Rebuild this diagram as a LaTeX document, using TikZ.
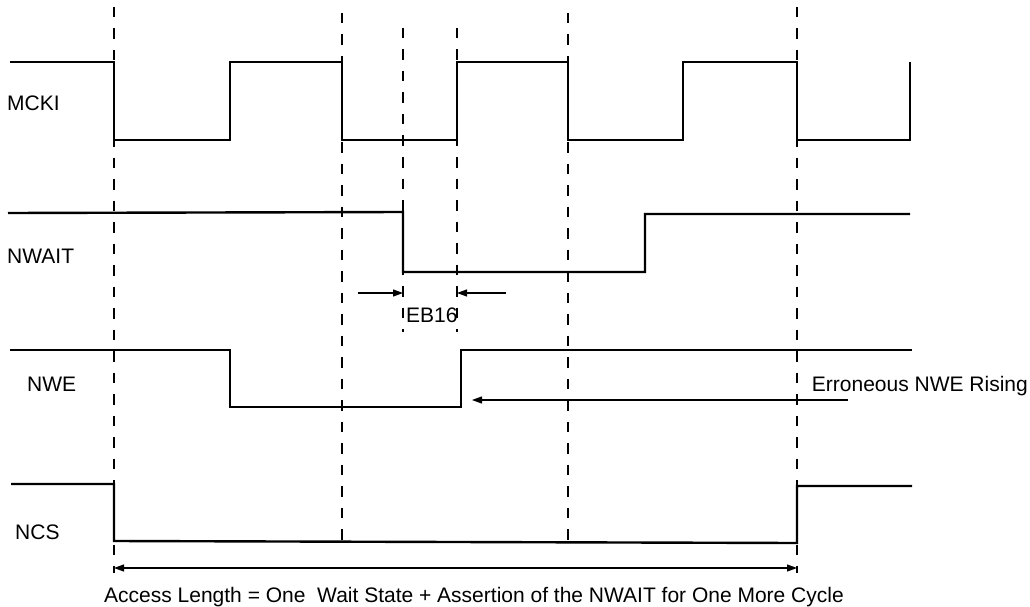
\documentclass[tikz,border=0pt]{standalone}
\usepackage{fontspec}
\setmainfont{Liberation Sans}
\usetikzlibrary{arrows.meta}
\begin{document}
\begin{tikzpicture}[x=1pt,y=-1pt,
  sig/.style={line width=2.4pt, line join=miter},
  gridline/.style={line width=1.1pt, dash pattern=on 10.5pt off 11pt},
  arr/.style={line width=1.1pt, -{Triangle[length=10pt,width=7pt]}},
  darr/.style={line width=1.1pt, {Triangle[length=10pt,width=7pt]}-{Triangle[length=10pt,width=7pt]}},
  lbl/.style={inner sep=0pt, anchor=base west, font=\fontsize{21}{24}\selectfont}]
\useasboundingbox (0,0) rectangle (1030,607);
% dashed time markers
\foreach \n/\x/\t/\b in {ga/114/7/573, gb/342/13/542, gc/403/28/332, gd/457/28/332, ge/568/13/540, gf/797/7/573} {
  \coordinate (\n t) at (\x,\t);
  \coordinate (\n b) at (\x,\b);
  \draw[gridline] (\n t) -- (\n b);
}
% waveforms
\draw[sig] (10,62) -| (114,140) -| (230,62) -| (342,140) -| (457,62) -| (568,140) -| (683,62) -| (797,140) -| (910,62);
\draw[sig] (8,213) -- (403,212) -- (403,272) -- (645,272) -- (645,214) -- (910,214);
\draw[sig] (10,350) -| (230,407) -| (461,350) -- (912,350);
\draw[sig] (11,484) -- (114,484) -- (114,541) -- (797,543) -- (797,486) -- (912,486);
% labels
\node[lbl] (mcki) at (7,111) {MCKI};
\node[lbl] (nwait) at (7,263) {NWAIT};
\node[lbl] (nwe) at (27,391) {NWE};
\node[lbl] (ncs) at (15,539) {NCS};
\node[lbl] (eb) at (406,322) {EB16};
\node[lbl, anchor=base east] (err) at (1028,391) {Erroneous NWE Rising};
\node[lbl] (acc) at (104,602) {Access Length = One\ \ Wait State + Assertion of the NWAIT for One More Cycle};
% arrows
\coordinate (e1) at (358,293);
\coordinate (e2) at (506,293);
\draw[arr] (e1) -- (gct |- e1);
\draw[arr] (e2) -- (gdt |- e2);
\coordinate (ert) at (848,400);
\coordinate (erh) at (472,400);
\draw[arr] (ert) -- (erh);
\coordinate (al) at (114,568);
\coordinate (ar) at (797,568);
\draw[darr] (al) -- (ar);
\end{tikzpicture}
\end{document}
